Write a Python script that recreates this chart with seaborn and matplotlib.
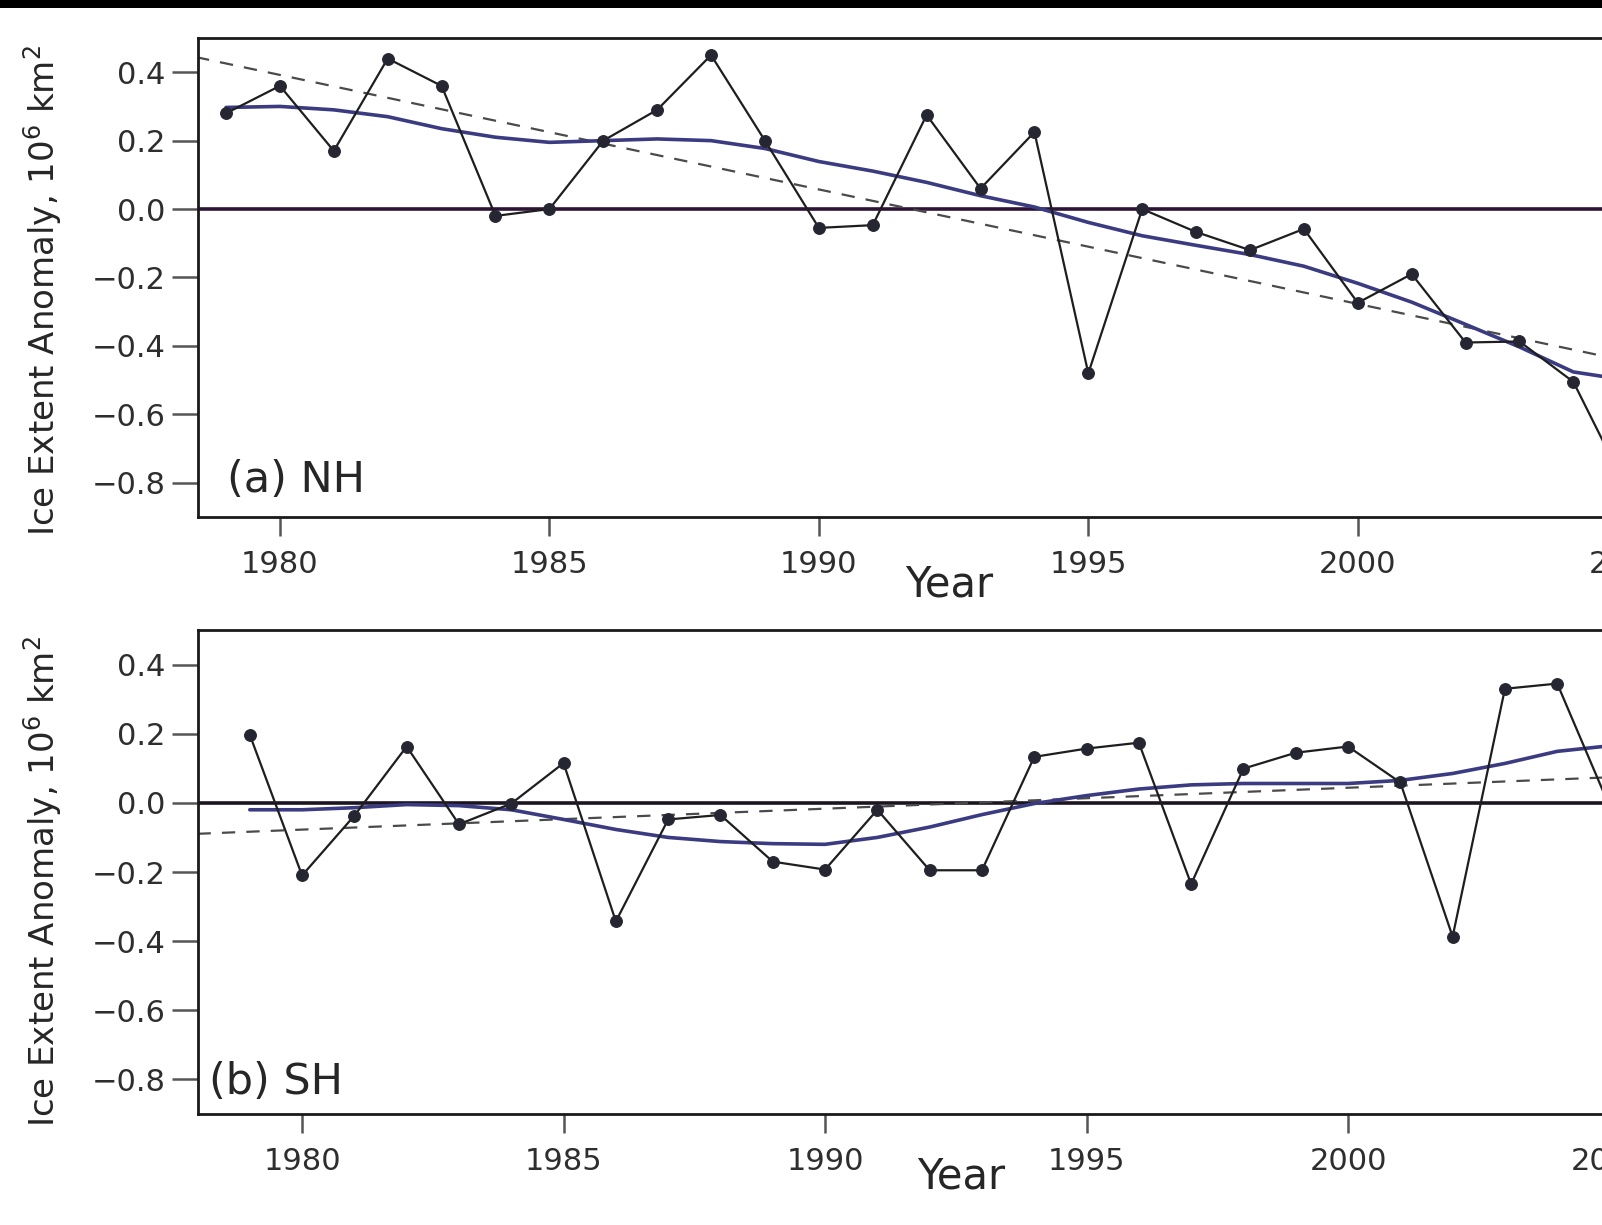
import numpy as np
import pandas as pd
import matplotlib
matplotlib.use("Agg")
import matplotlib.pyplot as plt
from matplotlib.patches import Rectangle
import seaborn as sns

# ---------------- data ----------------
years = list(range(1979, 2006))

nh_anomaly = [0.28, 0.36, 0.17, 0.44, 0.36, -0.02, 0.00, 0.20, 0.29, 0.45,
              0.20, -0.055, -0.047, 0.275, 0.06, 0.225, -0.48, 0.00, -0.067,
              -0.12, -0.058, -0.274, -0.19, -0.39, -0.387, -0.505, -0.82]
nh_smooth = [0.297, 0.30, 0.29, 0.27, 0.235, 0.21, 0.195, 0.20, 0.205, 0.20,
             0.177, 0.139, 0.111, 0.078, 0.039, 0.006, -0.039, -0.078, -0.106,
             -0.133, -0.167, -0.217, -0.272, -0.337, -0.403, -0.476, -0.50]

sh_anomaly = [0.197, -0.21, -0.037, 0.163, -0.062, -0.002, 0.115, -0.343,
              -0.048, -0.035, -0.17, -0.193, -0.02, -0.195, -0.195, 0.133,
              0.157, 0.174, -0.235, 0.099, 0.145, 0.163, 0.059, -0.387,
              0.33, 0.345, -0.01]
sh_smooth = [-0.02, -0.02, -0.014, -0.005, -0.008, -0.02, -0.048, -0.077,
             -0.10, -0.112, -0.118, -0.12, -0.10, -0.07, -0.034, -0.002,
             0.021, 0.04, 0.052, 0.056, 0.056, 0.056, 0.065, 0.085, 0.114,
             0.149, 0.165]

trend_years = [1978.0, 2006.0]
nh_trend = [0.459, -0.478]
sh_trend = [-0.0895, 0.080]

xtick_years = [1980, 1985, 1990, 1995, 2000, 2005]
xtick_labels = ["1980", "1985", "1990", "1995", "2000", "2005"]
ytick_values = [-0.8, -0.6, -0.4, -0.2, 0.0, 0.2, 0.4]
ytick_labels = ["\u22120.8", "\u22120.6", "\u22120.4", "\u22120.2", "0.0", "0.2", "0.4"]

panel_labels = ["(a) NH", "(b) SH"]
ylabel_text = "Ice Extent Anomaly, 10$^6$ km$^2$"
xlabel_text = "Year"

# ---------------- style ----------------
sns.set_style("ticks")
plt.rcParams["font.family"] = ["DejaVu Sans"]
plt.rcParams["mathtext.fontset"] = "dejavusans"

W, H = 1602, 1225
fig = plt.figure(figsize=(W / 100, H / 100), dpi=100)
fig.patch.set_facecolor("white")

# black scan band at the top
fig.patches.append(Rectangle((0, 1 - 8 / H), 1, 8 / H, transform=fig.transFigure,
                             facecolor="black", edgecolor="none", zorder=10))

panels = [
    dict(anom=nh_anomaly, smooth=nh_smooth, trend=nh_trend,
         rect=[198 / W, (H - 517) / H, 1502 / W, 479 / H],
         xlim=(1978.48, 2006.35), zero_color="#2d1436",
         label=panel_labels[0], label_xy=(0.0193, 0.052),
         ylab_y=0.474, xlab_xy=(0.500, -0.167)),
    dict(anom=sh_anomaly, smooth=sh_smooth, trend=sh_trend,
         rect=[198 / W, (H - 1114) / H, 1502 / W, 484 / H],
         xlim=(1978.01, 2006.73), zero_color="#1c1420",
         label=panel_labels[1], label_xy=(0.0073, 0.0413),
         ylab_y=0.481, xlab_xy=(0.508, -0.153)),
]

for p in panels:
    ax = fig.add_axes(p["rect"])
    df = pd.DataFrame({"year": years, "anomaly": p["anom"], "smooth": p["smooth"]})
    tdf = pd.DataFrame({"year": trend_years, "trend": p["trend"]})

    ax.axhline(0.0, color=p["zero_color"], lw=2.6, zorder=1)
    sns.lineplot(data=tdf, x="year", y="trend", ax=ax, color="#4a4a4a",
                 lw=1.6, linestyle=(0, (6, 5)), zorder=2)
    sns.lineplot(data=df, x="year", y="smooth", ax=ax, color="#3b3b82",
                 lw=2.6, zorder=3)
    sns.lineplot(data=df, x="year", y="anomaly", ax=ax, color="#1e1e1e",
                 lw=1.6, marker="o", markersize=8.5, markerfacecolor="#262633",
                 markeredgecolor="#262633", zorder=4)

    ax.set_xlim(*p["xlim"])
    ax.set_ylim(-0.9, 0.5)
    ax.set_xticks(xtick_years)
    ax.set_xticklabels(xtick_labels)
    ax.set_yticks(ytick_values)
    ax.set_yticklabels(ytick_labels)

    ax.tick_params(axis="y", direction="out", length=19, width=1.8,
                   color="#555555", labelsize=22, labelcolor="#2e2e2e", pad=4.5)
    ax.tick_params(axis="x", direction="out", length=14, width=1.8,
                   color="#555555", labelsize=22, labelcolor="#2e2e2e", pad=10)

    for side in ["left", "top", "bottom"]:
        ax.spines[side].set_visible(True)
        ax.spines[side].set_linewidth(2.0)
        ax.spines[side].set_color("#1a1a1a")
    ax.spines["right"].set_visible(False)

    ax.set_ylabel(ylabel_text, fontsize=24.5, color="#262626")
    ax.yaxis.set_label_coords(-0.089, p["ylab_y"])
    ax.set_xlabel(xlabel_text, fontsize=30, color="#262626")
    ax.xaxis.label.set_va("baseline")
    ax.xaxis.set_label_coords(*p["xlab_xy"])

    ax.text(p["label_xy"][0], p["label_xy"][1], p["label"], transform=ax.transAxes,
            fontsize=31, color="#262626", ha="left", va="baseline")

fig.savefig("out.png", dpi=100, facecolor="white")
